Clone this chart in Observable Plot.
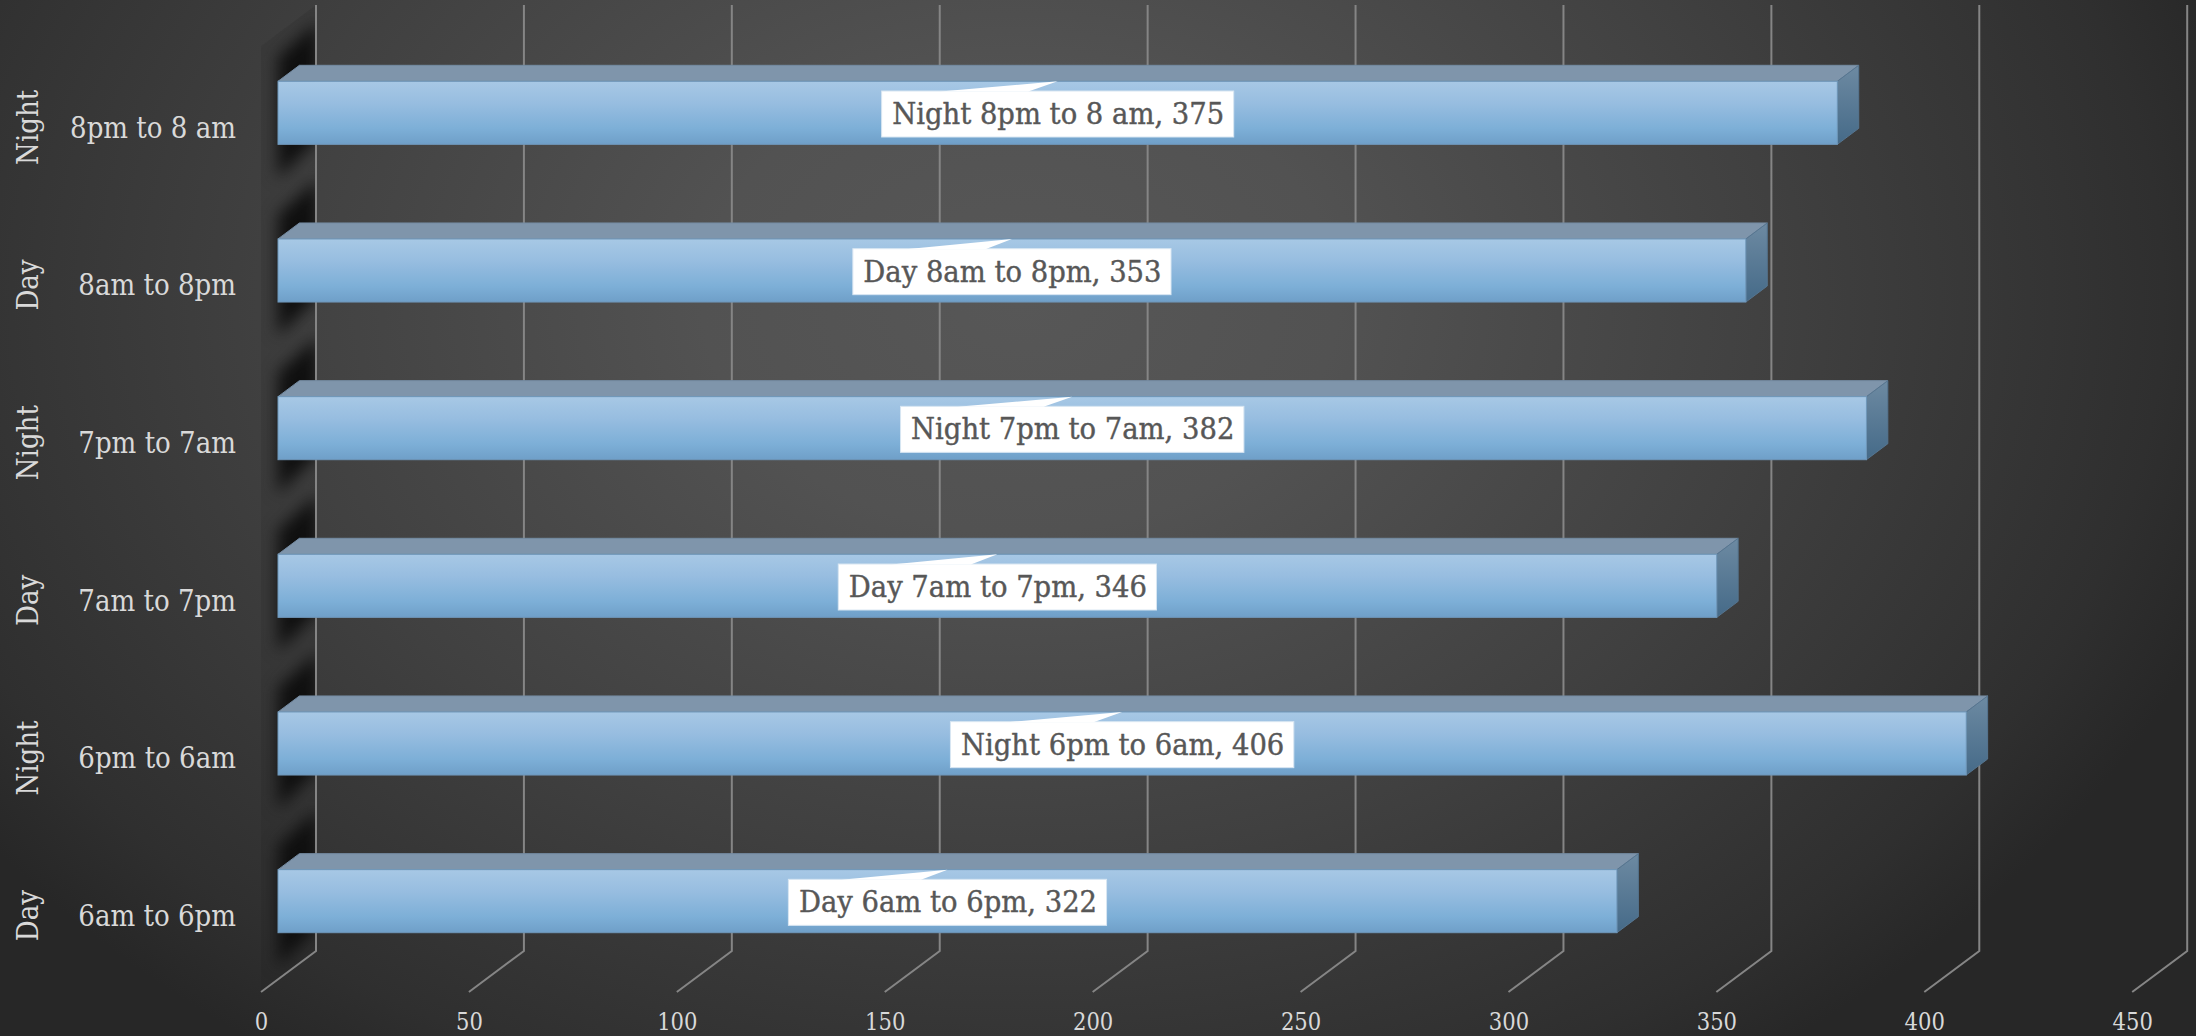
<!DOCTYPE html>
<html>
<head>
<meta charset="utf-8">
<script src="https://cdn.jsdelivr.net/npm/d3@7"></script>
<script src="https://cdn.jsdelivr.net/npm/@observablehq/plot@0.6"></script>
<style>
  html, body { margin: 0; padding: 0; width: 2196px; height: 1036px; overflow: hidden; }
  body { background: radial-gradient(ellipse 1270px 930px at 1020px 300px, #575757 0%, #525252 25%, #404040 60%, #2f2f2f 90%, #272727 100%); }
  svg { display: block; }
</style>
</head>
<body>
<div id="chart"></div>
<script>
// Shift hours, listed bottom to top as they stack on the chart
const shiftNames = ["Day", "Night", "Day", "Night", "Day", "Night"];
const hourRanges = ["6am to 6pm", "6pm to 6am", "7am to 7pm", "7pm to 7am", "8am to 8pm", "8pm to 8 am"];
const counts = [322, 406, 346, 382, 353, 375];
const valueTicks = [0, 50, 100, 150, 200, 250, 300, 350, 400, 450];

const rows = hourRanges.map((hours, i) => ({
  hours,
  shift: shiftNames[i],
  count: counts[i],
  caption: `${shiftNames[i]} ${hours}, ${counts[i]}`
}));

const font = "'DejaVu Serif Condensed', 'DejaVu Serif', serif";
const captionSize = 30.5;

// Depth of the extruded bars and of the floor, in pixels
const barDepth = {dx: 21.4, dy: 16};
const barShift = 29;
const backWall = {dx: 38, top: 5, bottom: 951};
const floorFront = {dx: -17, y: 992};

const layer = () => d3.create("svg:g");

// Gradients shared by the bar faces
const defs = () => {
  const d = d3.create("svg:defs");
  const grad = (id, stops) => {
    const g = d.append("linearGradient").attr("id", id).attr("x1", 0).attr("y1", 0).attr("x2", 0).attr("y2", 1);
    stops.forEach(([o, c]) => g.append("stop").attr("offset", o).attr("stop-color", c));
  };
  grad("front", [[0, "#a7c8e5"], [0.35, "#97bde0"], [0.75, "#7dafd7"], [1, "#6f9fc8"]]);
  grad("side", [[0, "#6d8aa2"], [1, "#456a88"]]);
  return d.node();
};

// The wall behind the origin, with the slanted shadow each bar casts on it
const wallShadow = Plot.barX(rows, {
  x1: () => 0, x2: "count", y: "hours",
  render(index, {x, y}) {
    const g = layer();
    const x0 = x(0) + floorFront.dx, x1 = x(0) + backWall.dx;
    const rise = floorFront.y - backWall.bottom;
    const wall = `M${x0},${backWall.top + rise}L${x1},${backWall.top}V${backWall.bottom}L${x0},${floorFront.y}Z`;
    g.append("clipPath").attr("id", "wall-clip").append("path").attr("d", wall);
    g.append("path").attr("d", wall).attr("fill", "#1d1d1d").attr("opacity", 0.1);
    const blobs = g.append("g").attr("clip-path", "url(#wall-clip)").append("g").style("filter", "blur(8px)");
    for (const i of index) {
      const top = y(rows[i].hours) + barShift;
      const bottom = top + y.bandwidth();
      const a = x0 + 17, b = x1 + 2;
      blobs.append("path").attr("fill", "#0f0f0f")
        .attr("d", `M${a},${top - 24}L${b},${top - 60}V${bottom - 6}L${a},${bottom + 34}Z`);
    }
    return g.node();
  }
});

// Gridlines: up the back wall, then forward across the floor
const gridLines = Plot.ruleX(valueTicks, {
  x: d => d,
  render(index, {x}) {
    const g = layer().attr("fill", "none").attr("stroke", "#858585").attr("stroke-width", 2);
    for (const i of index) {
      const px = x(valueTicks[i]);
      g.append("path").attr("d", `M${px + backWall.dx},${backWall.top}V${backWall.bottom}L${px + floorFront.dx},${floorFront.y}`);
    }
    return g.node();
  }
});

// Top and end faces of each extruded bar
const barSides = Plot.barX(rows, {
  x1: () => 0, x2: "count", y: "hours",
  render(index, {x, y}) {
    const g = layer();
    for (const i of index) {
      const d = rows[i];
      const left = x(0), right = x(d.count), top = y(d.hours) + barShift, bottom = top + y.bandwidth();
      g.append("path").attr("fill", "#7f95ab").attr("stroke", "#748ba2").attr("stroke-width", 1)
        .attr("d", `M${left},${top}L${left + barDepth.dx},${top - barDepth.dy}H${right + barDepth.dx}L${right},${top}Z`);
      g.append("path").attr("fill", "url(#side)").attr("stroke", "#567590").attr("stroke-width", 1)
        .attr("d", `M${right},${top}L${right + barDepth.dx},${top - barDepth.dy}V${bottom - barDepth.dy}L${right},${bottom}Z`);
    }
    return g.node();
  }
});

// Front face of each bar
const barFronts = Plot.barX(rows, {
  x1: () => 0, x2: "count", y: "hours", dy: barShift,
  fill: "url(#front)", stroke: "#6f97b9", strokeWidth: 1
});

// White callouts with the pointer aimed at the top edge of the bar
const measure = document.createElement("canvas").getContext("2d");
const callouts = Plot.barX(rows, {
  x1: () => 0, x2: "count", y: "hours",
  render(index, {x, y}) {
    const g = layer();
    measure.font = `${captionSize}px ${font}`;
    for (const i of index) {
      const d = rows[i];
      const mid = (x(0) + x(d.count)) / 2;
      const barTop = y(d.hours) + barShift;
      const w = measure.measureText(d.caption).width + 20;
      const boxTop = barTop + 9.7, left = mid - w / 2;
      g.append("rect").attr("x", left).attr("y", boxTop).attr("width", w).attr("height", 46)
        .attr("fill", "#ffffff").attr("stroke", "#d8e6f2").attr("stroke-width", 1);
      g.append("path").attr("fill", "#ffffff")
        .attr("d", `M${left + w / 6},${boxTop + 0.5}L${mid},${barTop}L${left + w * 5 / 12},${boxTop + 0.5}Z`);
    }
    return g.node();
  }
});

const chart = Plot.plot({
  width: 2196,
  height: 1036,
  marginTop: 5,
  marginBottom: 85,
  marginLeft: 278,
  marginRight: 46.8,
  style: {background: "transparent", fontFamily: font},
  x: {domain: [0, 450], axis: null},
  y: {
    type: "band",
    domain: hourRanges.slice().reverse(),
    paddingInner: 0.6,
    paddingOuter: 0.3,
    round: false,
    axis: null
  },
  marks: [
    defs,
    wallShadow,
    gridLines,
    barSides,
    barFronts,
    callouts,
    Plot.text(rows, {
      x: d => d.count / 2, y: "hours", text: "caption", dy: 30,
      fill: "#575757", stroke: "#575757", strokeWidth: 0.4, fontSize: captionSize
    }),
    Plot.text(rows, {
      y: "hours", text: "hours", frameAnchor: "left", textAnchor: "end", dx: -42.5, dy: 44,
      fill: "#d9d9d9", fontSize: 29
    }),
    Plot.text(rows, {
      y: "hours", text: "shift", frameAnchor: "left", textAnchor: "middle", rotate: -90, dx: -249.5, dy: 43,
      fill: "#d9d9d9", fontSize: 29
    }),
    Plot.text(valueTicks, {
      x: d => d, text: d => String(d), frameAnchor: "bottom", lineAnchor: "middle", dx: floorFront.dx, dy: 71,
      fill: "#d9d9d9", fontSize: 23.5
    })
  ]
});

document.getElementById("chart").append(chart);
</script>
</body>
</html>
